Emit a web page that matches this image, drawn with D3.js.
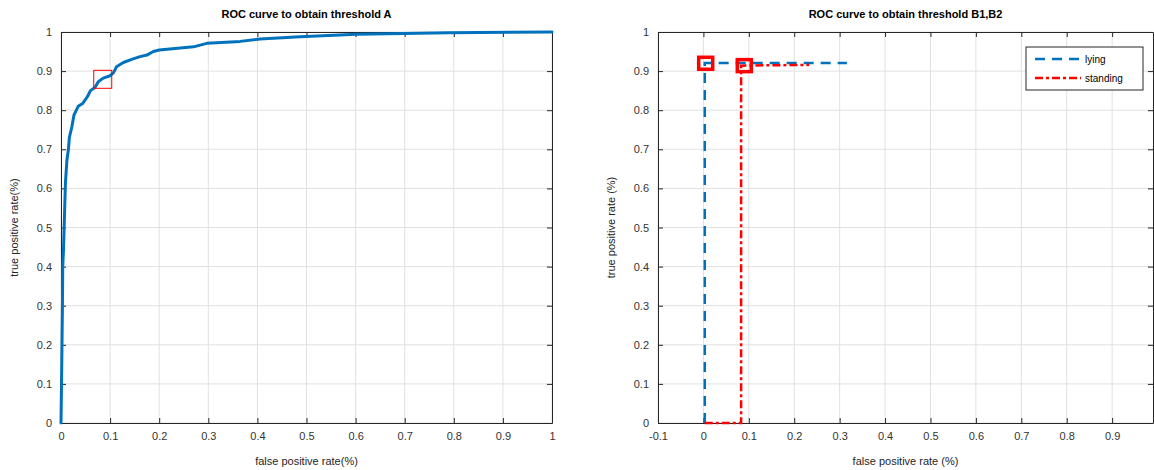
<!DOCTYPE html>
<html>
<head>
<meta charset="utf-8">
<script src="https://cdn.jsdelivr.net/npm/d3@7"></script>
<style>
  body { margin: 0; background: #fff; }
  svg { display: block; font-family: "Liberation Sans", Arial, sans-serif; }
  .tick text { fill: #333; font-size: 11px; }
  .grid line { stroke: #e1e1e1; stroke-width: 1; }
</style>
</head>
<body>
<svg id="chart" width="1154" height="470"></svg>
<script>
// Left panel: ROC curve, threshold A
const rocA = [
  [0, 0], [0.0014, 0.135], [0.003, 0.31], [0.0035, 0.40], [0.005, 0.44],
  [0.007, 0.527], [0.009, 0.613], [0.012, 0.672], [0.015, 0.698], [0.017, 0.73],
  [0.022, 0.757], [0.0265, 0.788], [0.035, 0.81], [0.044, 0.817], [0.054, 0.835],
  [0.06, 0.85], [0.069, 0.858], [0.076, 0.873], [0.086, 0.882], [0.1, 0.888],
  [0.107, 0.896], [0.113, 0.911], [0.127, 0.922], [0.144, 0.93], [0.161, 0.937],
  [0.175, 0.941], [0.188, 0.95], [0.2, 0.954], [0.27, 0.962], [0.297, 0.971],
  [0.365, 0.976], [0.405, 0.982], [0.487, 0.988], [0.602, 0.994], [0.79, 0.998], [1, 1]
];
const thresholdA = [0.085, 0.879];

// Right panel: ROC curves, thresholds B1, B2
const rocLying = [[0.003, 0], [0.003, 0.921], [0.316, 0.921]];
const rocStanding = [[0.003, 0], [0.083, 0], [0.083, 0.914], [0.233, 0.916]];
const thresholdB1 = [0.005, 0.92];
const thresholdB2 = [0.09, 0.914];

const yTicks = d3.range(0, 11).map(i => i / 10);
const xTicksA = d3.range(0, 11).map(i => i / 10);
const xTicksB = d3.range(-1, 10).map(i => i / 10);

const blue = '#0072BD';
const red = '#FF0000';
const fmt = d => String(+d.toFixed(1));

const svg = d3.select('#chart');

function drawAxes(cfg) {
  const g = svg.append('g');
  const x = d3.scaleLinear().domain(cfg.xDomain).range([cfg.left, cfg.right]);
  const y = d3.scaleLinear().domain([0, 1]).range([423, 32]);

  // grid
  const grid = g.append('g').attr('class', 'grid');
  grid.selectAll('line.vx').data(cfg.xTicks).enter().append('line')
    .attr('x1', d => x(d)).attr('x2', d => x(d)).attr('y1', y(0)).attr('y2', y(1));
  grid.selectAll('line.hy').data(yTicks).enter().append('line')
    .attr('y1', d => y(d)).attr('y2', d => y(d)).attr('x1', cfg.left).attr('x2', cfg.right);

  // axes with inward ticks on all sides (box on)
  const tl = 5;
  const bottom = g.append('g').attr('transform', `translate(0,${y(0)})`)
    .call(d3.axisBottom(x).tickValues(cfg.xTicks).tickFormat(fmt).tickSizeInner(-tl).tickSizeOuter(0).tickPadding(9));
  const top = g.append('g').attr('transform', `translate(0,${y(1)})`)
    .call(d3.axisTop(x).tickValues(cfg.xTicks).tickFormat('').tickSizeInner(-tl).tickSizeOuter(0));
  const leftAx = g.append('g').attr('transform', `translate(${cfg.left},0)`)
    .call(d3.axisLeft(y).tickValues(yTicks).tickFormat(fmt).tickSizeInner(-tl).tickSizeOuter(0).tickPadding(9));
  const rightAx = g.append('g').attr('transform', `translate(${cfg.right},0)`)
    .call(d3.axisRight(y).tickValues(yTicks).tickFormat('').tickSizeInner(-tl).tickSizeOuter(0));
  [bottom, top, leftAx, rightAx].forEach(a => {
    a.select('.domain').attr('stroke', '#262626');
    a.selectAll('.tick line').attr('stroke', '#262626');
  });

  // title and labels
  const cx = (cfg.left + cfg.right) / 2;
  g.append('text').attr('x', cx).attr('y', 18).attr('text-anchor', 'middle')
    .style('font-size', '11px').style('font-weight', 'bold').attr('fill', '#000')
    .text(cfg.title);
  g.append('text').attr('x', cx).attr('y', 465).attr('text-anchor', 'middle')
    .style('font-size', '11px').attr('fill', '#262626').text(cfg.xLabel);
  g.append('text').attr('transform', `translate(${cfg.left - 43},${(y(0) + y(1)) / 2}) rotate(-90)`)
    .attr('text-anchor', 'middle').style('font-size', '11px').attr('fill', '#262626').text(cfg.yLabel);

  return { g, x, y };
}

// left panel
const A = drawAxes({
  xDomain: [0, 1], left: 61, right: 552, xTicks: xTicksA,
  title: 'ROC curve to obtain threshold A',
  xLabel: 'false positive rate(%)', yLabel: 'true positive rate(%)'
});
const lineA = d3.line().x(d => A.x(d[0])).y(d => A.y(d[1])).curve(d3.curveLinear);
A.g.append('path').datum(rocA).attr('d', lineA)
  .attr('fill', 'none').attr('stroke', blue).attr('stroke-width', 3)
  .attr('stroke-linejoin', 'round').attr('stroke-linecap', 'round');
A.g.append('rect')
  .attr('x', A.x(thresholdA[0]) - 9).attr('y', A.y(thresholdA[1]) - 9)
  .attr('width', 18).attr('height', 18)
  .attr('fill', 'none').attr('stroke', red).attr('stroke-width', 1);

// right panel
const B = drawAxes({
  xDomain: [-0.1, 0.99], left: 658, right: 1153, xTicks: xTicksB,
  title: 'ROC curve to obtain threshold B1,B2',
  xLabel: 'false positive rate (%)', yLabel: 'true positive rate (%)'
});
const lineB = d3.line().x(d => B.x(d[0])).y(d => B.y(d[1]));
B.g.append('path').datum(rocLying).attr('d', lineB)
  .attr('fill', 'none').attr('stroke', blue).attr('stroke-width', 2.5)
  .attr('stroke-dasharray', '10,7');
B.g.append('path').datum(rocStanding).attr('d', lineB)
  .attr('fill', 'none').attr('stroke', red).attr('stroke-width', 2.5)
  .attr('stroke-dasharray', '8,3,3,3');
[thresholdB1, thresholdB2].forEach(p => {
  B.g.append('rect')
    .attr('x', B.x(p[0]) - 7).attr('y', B.y(p[1]) - 6)
    .attr('width', 14).attr('height', 12)
    .attr('fill', 'none').attr('stroke', red).attr('stroke-width', 3.5);
});

// legend
const leg = B.g.append('g');
leg.append('rect').attr('x', 1026).attr('y', 47).attr('width', 117).attr('height', 43)
  .attr('fill', '#fff').attr('stroke', '#262626').attr('stroke-width', 1);
const legendItems = [
  { name: 'lying', color: blue, dash: '10,7' },
  { name: 'standing', color: red, dash: '8,3,3,3' }
];
legendItems.forEach((d, i) => {
  const ly = 59 + i * 19;
  leg.append('line').attr('x1', 1035).attr('x2', 1081).attr('y1', ly).attr('y2', ly)
    .attr('stroke', d.color).attr('stroke-width', 2.5).attr('stroke-dasharray', d.dash);
  leg.append('text').attr('x', 1085).attr('y', ly + 3.5).style('font-size', '10px')
    .attr('fill', '#000').text(d.name);
});
</script>
</body>
</html>
